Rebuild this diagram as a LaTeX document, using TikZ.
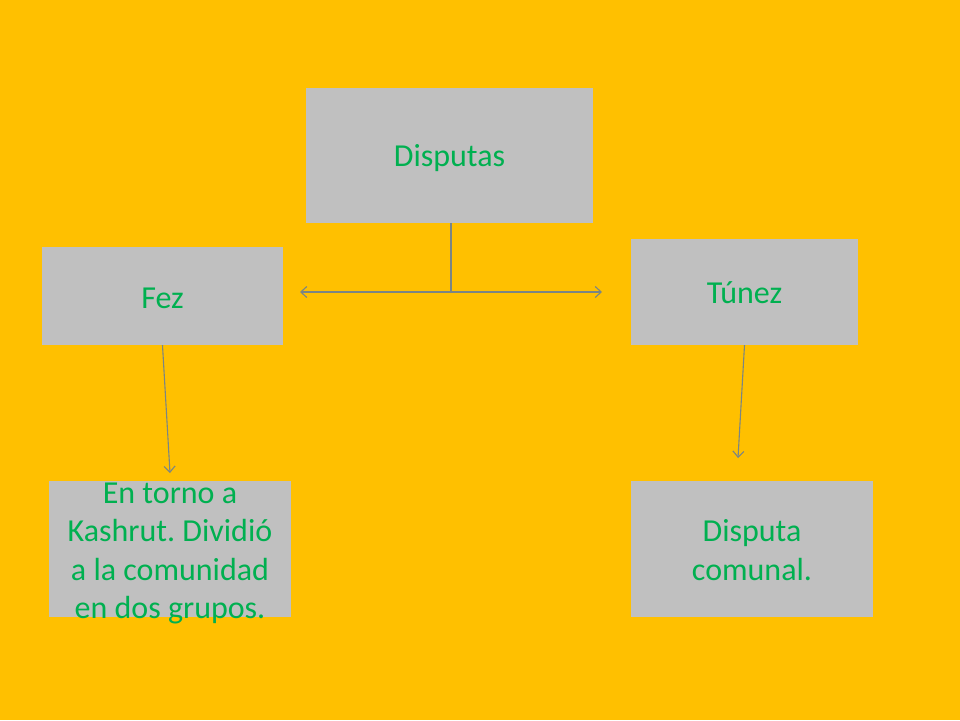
\documentclass[tikz,border=0pt]{standalone}
\usepackage{fontspec}
\setmainfont{Carlito}
\usetikzlibrary{arrows.meta}
\frenchspacing
\definecolor{bgyellow}{HTML}{FFC000}
\definecolor{boxgray}{HTML}{C0C0C0}
\definecolor{txtgreen}{HTML}{00B050}
\definecolor{linegray}{HTML}{7A8585}
\begin{document}
\begin{tikzpicture}[x=1pt,y=-1pt,
  box/.style={fill=boxgray,draw=none,inner sep=0pt},
  txt/.style={inner sep=0pt,align=center,text=txtgreen,
    font=\fontsize{32}{38.5}\selectfont\frenchspacing},
  conn/.style={draw=linegray,line width=1.1pt},
  arr/.style={conn,-{Straight Barb[length=6pt,width=11pt]}}]
\fill[bgyellow] (0,0) rectangle (960,720);
\useasboundingbox (0,0) rectangle (960,720);
\node[box,minimum width=287pt,minimum height=135pt] (disp) at (449.5,155.5) {};
\node[box,minimum width=241pt,minimum height=98pt] (fez) at (162.5,296) {};
\node[box,minimum width=227pt,minimum height=106pt] (tun) at (744.5,292) {};
\node[box,minimum width=242pt,minimum height=136pt] (kash) at (170,549) {};
\node[box,minimum width=242pt,minimum height=136pt] (com) at (752,549) {};
\node[txt] (dispt) at ([yshift=-3pt]disp.center) {Disputas};
\node[txt] (fezt) at ([yshift=-2pt]fez.center) {Fez};
\node[txt] (tunt) at ([yshift=-1pt]tun.center) {Túnez};
\node[txt] (kasht) at ([yshift=-4.5pt]kash.center) {En torno a\\Kashrut. Dividió\\a la comunidad\\en dos grupos.};
\node[txt] (comt) at ([yshift=-1pt]com.center) {Disputa\\comunal.};
\coordinate (j) at (451,292);
\coordinate (jl) at (300,292);
\coordinate (jr) at (602,292);
\coordinate (fe) at (170,473);
\coordinate (te) at (738,458);
\draw[conn] (disp.south -| j) -- (j);
\draw[arr] (j) -- (jl);
\draw[arr] (j) -- (jr);
\draw[arr] (fez.south) -- (fe);
\draw[arr] (tun.south) -- (te);
\end{tikzpicture}
\end{document}
